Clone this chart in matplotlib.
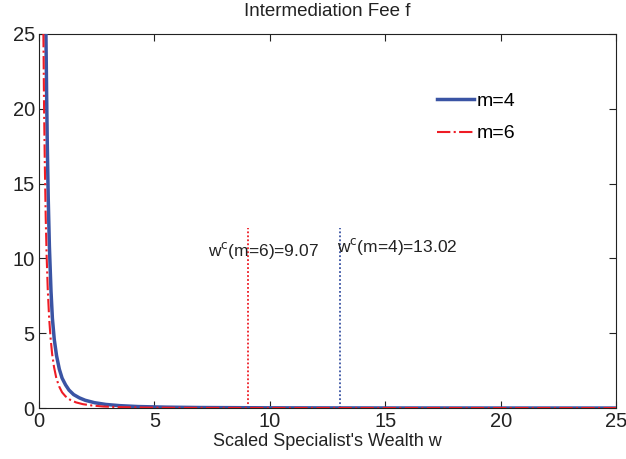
import matplotlib.pyplot as plt

plt.rcParams['font.family'] = ['Liberation Sans', 'DejaVu Sans']

# fee curves
w_m4 = [0.30, 0.33, 0.36, 0.40, 0.45, 0.52, 0.58, 0.66, 0.76, 0.88, 1.0, 1.15, 1.3,
        1.5, 1.75, 2.0, 2.4, 2.9, 3.5, 4.3, 5.5, 7.0, 10, 15, 20, 25]
f_m4 = [25, 21, 17.5, 14, 10.8, 7.8, 6.0, 4.6, 3.5, 2.6, 2.0, 1.55, 1.2,
        0.9, 0.68, 0.52, 0.36, 0.24, 0.16, 0.10, 0.06, 0.035, 0.015, 0.005, 0.002, 0.001]
w_m6 = [0.19, 0.22, 0.25, 0.29, 0.33, 0.38, 0.44, 0.50, 0.57, 0.65, 0.75, 0.87, 1.0,
        1.15, 1.35, 1.6, 1.9, 2.3, 2.8, 3.5, 4.5, 6.0, 9, 15, 25]
f_m6 = [25, 20, 16.5, 12.8, 10.2, 7.9, 6.0, 4.7, 3.6, 2.75, 2.0, 1.45, 1.05,
        0.78, 0.55, 0.38, 0.26, 0.17, 0.10, 0.06, 0.03, 0.012, 0.004, 0.001, 0.0]

wc_m6 = 9.07
wc_m4 = 13.02

fig = plt.figure(figsize=(6.26, 4.59), dpi=100)
ax = fig.add_axes([0.0623, 0.111, 0.922, 0.815])

ax.plot(w_m4, f_m4, color='#3a54a4', lw=2.5, label='m=4', zorder=3)
ax.plot(w_m6, f_m6, color='#ee1c25', lw=1.5, linestyle='-.', label='m=6', zorder=4)

ax.plot([wc_m6, wc_m6], [0, 12], color='#ee1c25', lw=1.3, linestyle=(0, (1, 1.2)))
ax.plot([wc_m4, wc_m4], [0, 12], color='#3a54a4', lw=1.3, linestyle=(0, (1, 1.2)))
ax.text(7.3, 10.5, r'w$^{\rm c}$(m=6)=9.07', fontsize=12.5, va='center', color='#222222')
ax.text(12.9, 10.8, r'w$^{\rm c}$(m=4)=13.02', fontsize=12.5, va='center', color='#222222')

ax.set_xlim(0, 25)
ax.set_ylim(0, 25)
ax.set_xticks([0, 5, 10, 15, 20, 25])
ax.set_yticks([0, 5, 10, 15, 20, 25])
ax.tick_params(direction='in', top=True, right=True, labelsize=14.5, length=5,
               colors='#222222')
ax.tick_params(axis='x', pad=3)
ax.tick_params(axis='y', pad=3)
for s in ax.spines.values():
    s.set_color('#222222')

ax.set_title('Intermediation Fee f', fontsize=13.5, pad=13, color='#222222')
ax.set_xlabel("Scaled Specialist's Wealth w", fontsize=13, labelpad=1, color='#222222')

ax.legend(loc='upper left', bbox_to_anchor=(0.66, 0.89), frameon=False, fontsize=14,
          handlelength=1.9, handletextpad=0.1, labelspacing=0.75)

fig.savefig('out.png', dpi=100)
